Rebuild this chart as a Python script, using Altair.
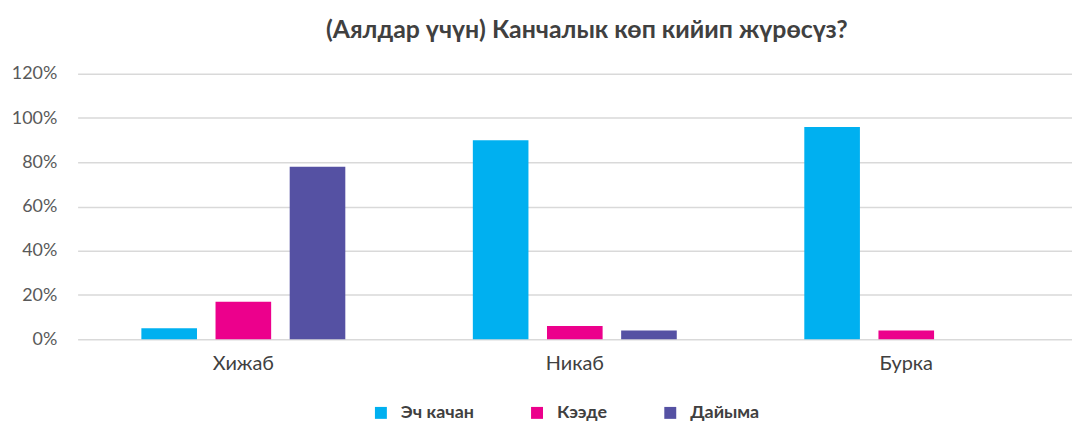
import altair as alt
import pandas as pd

categories = ["Хижаб", "Никаб", "Бурка"]
series = ["Эч качан", "Кээде", "Дайыма"]
never = [0.05, 0.90, 0.96]
sometimes = [0.17, 0.06, 0.04]
always = [0.78, 0.04, 0.0]
colors = ["#00B0F0", "#EC008C", "#5551A3"]

rows = []
for i, c in enumerate(categories):
    for s, vals in zip(series, [never, sometimes, always]):
        rows.append({"Category": c, "Series": s, "Value": vals[i]})
df = pd.DataFrame(rows)

FONT = "Lato"

chart = alt.Chart(df).mark_bar().encode(
    x=alt.X("Category:N", sort=categories, title=None,
            scale=alt.Scale(paddingInner=0.34, paddingOuter=0.17),
            axis=alt.Axis(labelAngle=0, labelFontSize=20, labelColor="#404040",
                          labelFont=FONT, domain=False, ticks=False, labelPadding=14)),
    xOffset=alt.XOffset("Series:N", sort=series,
                        scale=alt.Scale(paddingInner=0.25, paddingOuter=0.1)),
    y=alt.Y("Value:Q", title=None,
            scale=alt.Scale(domain=[0, 1.2], nice=False),
            axis=alt.Axis(format="%", values=[0, 0.2, 0.4, 0.6, 0.8, 1.0, 1.2],
                          labelFontSize=18, labelColor="#595959", labelFont=FONT,
                          domain=False, ticks=False, labelPadding=21,
                          gridColor="#D9D9D9", gridWidth=1.5)),
    color=alt.Color("Series:N", sort=series,
                    scale=alt.Scale(domain=series, range=colors),
                    legend=alt.Legend(title=None, orient="none", direction="horizontal",
                                      legendX=296, legendY=332,
                                      symbolType="square", symbolSize=144,
                                      labelFontSize=18, labelFontWeight="bold",
                                      labelColor="#404040", labelFont=FONT,
                                      labelOffset=11,
                                      columnPadding=54, symbolStrokeWidth=0)),
).properties(
    width=1000,
    height=267,
    title=alt.TitleParams("(Аялдар үчүн) Канчалык көп кийип жүрөсүз?", fontSize=25,
                          fontWeight="bold", color="#404040", font=FONT,
                          anchor="middle", dx=12, offset=22),
    autosize=alt.AutoSizeParams(type="none"),
    padding={"left": 70, "top": 65, "right": 0, "bottom": 84},
).configure_view(stroke=None)

chart.save("out.html", embed_options={"renderer": "svg", "actions": False})
